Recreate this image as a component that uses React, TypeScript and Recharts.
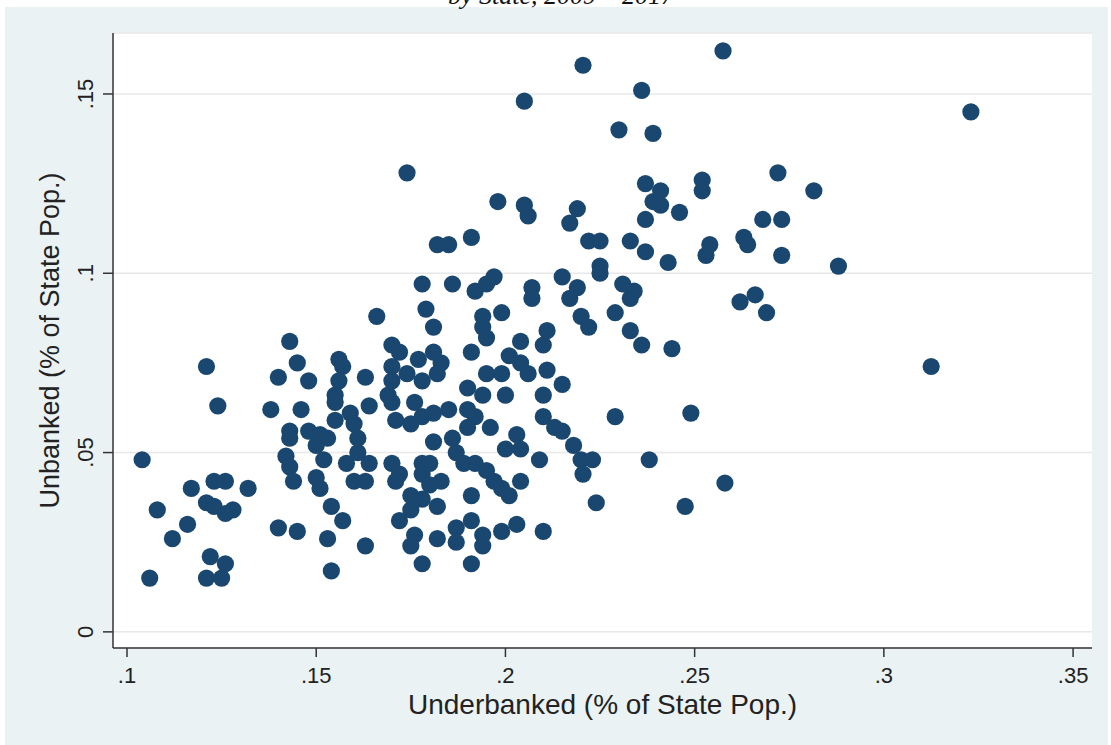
import React from "react"
import { ScatterChart, Scatter, XAxis, YAxis, CartesianGrid, Label } from "recharts"

const underbanked = [
  0.104, 0.106, 0.108, 0.112, 0.116, 0.117, 0.121, 0.121, 0.121, 0.122,
  0.123, 0.123, 0.124, 0.126, 0.126, 0.126, 0.125, 0.128, 0.132,
  0.138, 0.143, 0.145, 0.140, 0.148, 0.146, 0.143, 0.143, 0.142, 0.143,
  0.144, 0.148, 0.151, 0.153, 0.150, 0.152, 0.150, 0.151, 0.154, 0.157,
  0.140, 0.145, 0.153, 0.163, 0.154,
  0.166, 0.156, 0.157, 0.156, 0.155, 0.155, 0.155, 0.159, 0.160, 0.161,
  0.163, 0.164, 0.158, 0.161, 0.164, 0.160, 0.163, 0.170, 0.172, 0.171,
  0.170, 0.172, 0.170, 0.174, 0.170, 0.169, 0.170, 0.177, 0.181, 0.183,
  0.182, 0.178, 0.176, 0.171, 0.175, 0.178, 0.181, 0.185, 0.190, 0.192,
  0.190, 0.190, 0.181, 0.186, 0.187, 0.196, 0.189, 0.192, 0.195, 0.197,
  0.199, 0.201, 0.204, 0.203, 0.200, 0.204, 0.209, 0.210, 0.213, 0.215,
  0.218,
  0.178, 0.180, 0.178, 0.180, 0.183, 0.175, 0.178, 0.182, 0.191, 0.175,
  0.172, 0.176, 0.175, 0.182, 0.187, 0.187, 0.191, 0.194, 0.194, 0.199,
  0.203, 0.210, 0.178, 0.191,
  0.174, 0.198, 0.205, 0.206, 0.217, 0.219, 0.182, 0.185, 0.191, 0.178,
  0.186, 0.192, 0.195, 0.197, 0.207, 0.207, 0.215, 0.219, 0.217, 0.179,
  0.181, 0.199, 0.194, 0.194, 0.195, 0.191, 0.204, 0.211, 0.210, 0.201,
  0.204, 0.206, 0.211, 0.215, 0.195, 0.199, 0.194, 0.200, 0.210,
  0.2205, 0.236, 0.205, 0.230, 0.239, 0.2575, 0.237, 0.241, 0.239, 0.241,
  0.246, 0.252, 0.252, 0.237, 0.222, 0.225, 0.233, 0.237, 0.243, 0.254,
  0.253, 0.263, 0.264, 0.268, 0.273, 0.273, 0.272, 0.2815, 0.288, 0.323,
  0.225, 0.225, 0.231, 0.234, 0.233, 0.229, 0.220, 0.222, 0.233, 0.236,
  0.244, 0.262, 0.266, 0.269, 0.229, 0.249, 0.220, 0.223, 0.2205, 0.238,
  0.258, 0.224, 0.2475, 0.3125,
]

const unbanked = [
  0.048, 0.015, 0.034, 0.026, 0.030, 0.040, 0.036, 0.074, 0.015, 0.021,
  0.042, 0.035, 0.063, 0.033, 0.042, 0.019, 0.015, 0.034, 0.040,
  0.062, 0.081, 0.075, 0.071, 0.070, 0.062, 0.056, 0.054, 0.049, 0.046,
  0.042, 0.056, 0.055, 0.054, 0.052, 0.048, 0.043, 0.040, 0.035, 0.031,
  0.029, 0.028, 0.026, 0.024, 0.017,
  0.088, 0.076, 0.074, 0.070, 0.066, 0.064, 0.059, 0.061, 0.058, 0.054,
  0.071, 0.063, 0.047, 0.050, 0.047, 0.042, 0.042, 0.047, 0.044, 0.042,
  0.080, 0.078, 0.074, 0.072, 0.070, 0.066, 0.064, 0.076, 0.078, 0.075,
  0.072, 0.070, 0.064, 0.059, 0.058, 0.060, 0.061, 0.062, 0.062, 0.060,
  0.057, 0.068, 0.053, 0.054, 0.050, 0.057, 0.047, 0.047, 0.045, 0.042,
  0.040, 0.038, 0.042, 0.055, 0.051, 0.051, 0.048, 0.060, 0.057, 0.056,
  0.052,
  0.047, 0.047, 0.044, 0.041, 0.042, 0.038, 0.037, 0.035, 0.038, 0.034,
  0.031, 0.027, 0.024, 0.026, 0.029, 0.025, 0.031, 0.027, 0.024, 0.028,
  0.030, 0.028, 0.019, 0.019,
  0.128, 0.120, 0.119, 0.116, 0.114, 0.118, 0.108, 0.108, 0.110, 0.097,
  0.097, 0.095, 0.097, 0.099, 0.096, 0.093, 0.099, 0.096, 0.093, 0.090,
  0.085, 0.089, 0.088, 0.085, 0.082, 0.078, 0.081, 0.084, 0.080, 0.077,
  0.075, 0.072, 0.073, 0.069, 0.072, 0.072, 0.066, 0.066, 0.066,
  0.158, 0.151, 0.148, 0.140, 0.139, 0.162, 0.125, 0.123, 0.120, 0.119,
  0.117, 0.126, 0.123, 0.115, 0.109, 0.109, 0.109, 0.106, 0.103, 0.108,
  0.105, 0.110, 0.108, 0.115, 0.115, 0.105, 0.128, 0.123, 0.102, 0.145,
  0.102, 0.100, 0.097, 0.095, 0.093, 0.089, 0.088, 0.085, 0.084, 0.080,
  0.079, 0.092, 0.094, 0.089, 0.060, 0.061, 0.048, 0.048, 0.044, 0.048,
  0.0415, 0.036, 0.035, 0.074,
]

const xTicks = [0.1, 0.15, 0.2, 0.25, 0.3, 0.35]
const yTicks = [0, 0.05, 0.1, 0.15]

const points = underbanked.map((x, i) => ({ x, y: unbanked[i] }))

const FONT = "'Liberation Sans', Arial, sans-serif"
const NAVY = "#1a476f"
const AXIS = "#333"

// stata style: drop the leading zero
const fmt = (v: number) => (v === 0 ? "0" : String(v).replace(/^0/, ""))

const Dot = (props: any) => <circle cx={props.cx} cy={props.cy} r={8.6} fill={NAVY} />

const YTick = (props: any) => {
  const { x, y, payload } = props
  return (
    <text
      transform={`translate(${x - 10},${y}) rotate(-90)`}
      textAnchor="middle"
      fontSize={22}
      fontFamily={FONT}
      fill="#222"
    >
      {fmt(payload.value)}
    </text>
  )
}

export default function App() {
  return (
    <div style={{ position: "absolute", left: 0, top: 0, width: 1111, height: 745, overflow: "hidden" }}>
      <div
        style={{
          position: "absolute",
          left: 5,
          top: 7,
          width: 1103,
          height: 738,
          background: "#eaf2f3",
        }}
      />
      <div
        style={{
          position: "absolute",
          left: 361,
          top: -17,
          width: 400,
          textAlign: "center",
          fontFamily: "'Liberation Serif', 'Times New Roman', serif",
          fontStyle: "italic",
          fontSize: 26,
          lineHeight: 1,
          color: "#111",
          zIndex: 2,
        }}
      >
        by State, 2009 – 2017
      </div>
      <div style={{ position: "absolute", left: 0, top: 0 }}>
        <ScatterChart width={1111} height={745} margin={{ top: 33, right: 19, bottom: 27, left: 53 }}>
          <CartesianGrid vertical={false} stroke="#e8e8e8" strokeWidth={1.5} fill="#ffffff" />
          <XAxis
            type="number"
            dataKey="x"
            domain={[0.0963, 0.355]}
            ticks={xTicks}
            tickFormatter={fmt}
            allowDataOverflow
            height={70}
            tickSize={9}
            tickMargin={10}
            axisLine={{ stroke: AXIS, strokeWidth: 1.5 }}
            tickLine={{ stroke: AXIS, strokeWidth: 1.5 }}
            tick={{ fontSize: 22, fontFamily: FONT, fill: "#222" }}
          >
            <Label
              value="Underbanked (% of State Pop.)"
              position="insideBottom"
              offset={4}
              style={{ fontSize: 28, fontFamily: FONT, fill: "#222" }}
            />
          </XAxis>
          <YAxis
            type="number"
            dataKey="y"
            domain={[-0.0045, 0.167]}
            ticks={yTicks}
            allowDataOverflow
            width={60}
            tickSize={10}
            tickMargin={0}
            axisLine={{ stroke: AXIS, strokeWidth: 1.5 }}
            tickLine={{ stroke: AXIS, strokeWidth: 1.5 }}
            tick={<YTick />}
          >
            <Label
              value="Unbanked (% of State Pop.)"
              angle={-90}
              position="insideLeft"
              offset={-4}
              style={{ textAnchor: "middle", fontSize: 27, fontFamily: FONT, fill: "#222" }}
            />
          </YAxis>
          <Scatter data={points} shape={<Dot />} isAnimationActive={false} />
        </ScatterChart>
      </div>
    </div>
  )
}
